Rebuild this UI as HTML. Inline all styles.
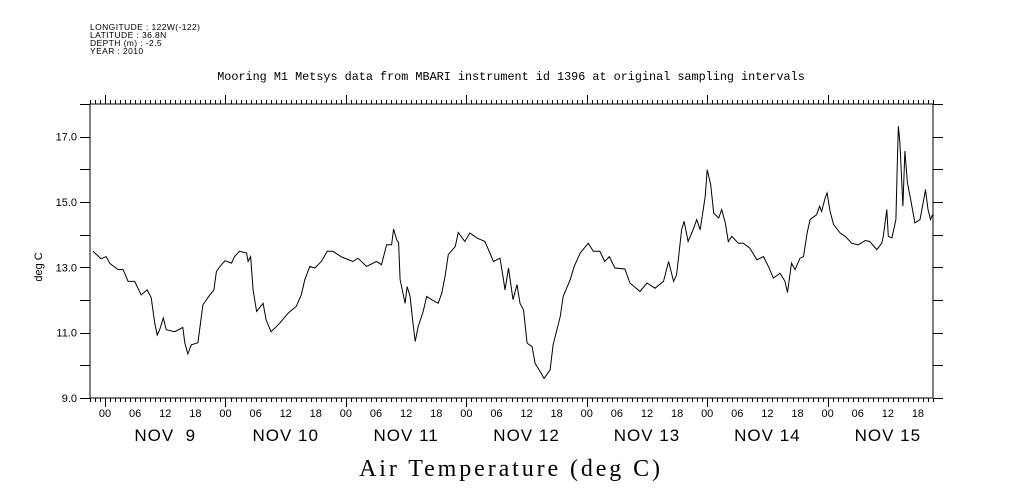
<!DOCTYPE html>
<html><head><meta charset="utf-8"><style>
html,body{margin:0;padding:0;background:#fff;}
svg{display:block}
</style></head><body>
<svg id="chart" width="1009" height="504" viewBox="0 0 1009 504" xmlns="http://www.w3.org/2000/svg">
<g font-family="Liberation Sans, sans-serif" font-size="8.5" letter-spacing="0.4" fill="#000">
<text x="90" y="30">LONGITUDE : 122W(-122)</text>
<text x="90" y="38">LATITUDE : 36.8N</text>
<text x="90" y="46">DEPTH (m) : -2.5</text>
<text x="90" y="54">YEAR : 2010</text>
</g>
<text x="511" y="80" text-anchor="middle" font-family="Liberation Mono, monospace" font-size="11.8">Mooring M1 Metsys data from MBARI instrument id 1396 at original sampling intervals</text>
<text x="511" y="476" text-anchor="middle" font-family="Liberation Serif, serif" font-size="24" letter-spacing="2.9">Air Temperature (deg C)</text>
<text transform="translate(42,267) rotate(-90)" text-anchor="middle" font-family="Liberation Sans, sans-serif" font-size="11">deg C</text>
<rect x="90" y="104" width="843" height="294" fill="none" stroke="#000" stroke-width="1"/>
<g id="axes"></g>
<path id="series" fill="none" stroke="#000" stroke-width="1"/>
</svg>
<script>
// hours since Nov 9 00:00
const hours = [-2.4,-0.8,0.2,1,2.6,3.6,4.6,5.9,7.2,8.4,9.2,9.9,10.4,10.9,11.6,12.2,13.9,15.5,15.9,16.5,17.2,18.5,19.5,20.9,21.7,22.2,22.9,23.9,25.2,25.8,26.8,28.2,28.5,29,29.5,30.2,31.5,32.1,33.1,34.8,36.5,38.1,39.1,39.8,40.8,41.8,43.1,44.3,45.4,47.1,49.4,50.4,52.1,54.1,
55.1,56.1,57.1,57.5,58.1,58.5,58.8,59.8,60.2,60.8,61.3,61.8,62.4,63.4,64.1,65.1,66.4,67.1,67.8,68.4,69.8,70.4,71.7,72.7,74.1,75.7,76.7,77.4,78.7,79.3,79.7,80.4,81.3,82.1,82.7,83.4,84.1,85.1,85.7,86.7,87.5,88.7,89.3,90.7,91.3,92.7,93.5,94.7,96.3,97.3,98.6,99.6,100.5,101.6,103.6,104.6,106.6,108.0,109.6,
111.3,112.3,113.3,113.9,114.9,115.4,116.2,117.2,117.9,118.6,119.6,120.0,120.7,121.3,122.3,122.9,123.6,124.2,124.9,126.2,127.2,128.5,129.9,131.2,132.2,133.2,134.5,135.5,136.0,136.8,137.5,138.5,139.2,139.9,140.5,141.8,142.4,142.8,143.5,143.9,144.5,145.2,146.5,147.5,148.8,150.1,151.5,152.4,153.8,154.8,155.1,155.8,156.1,156.8,157.6,157.9,158.1,158.4,159.0,159.4,159.9,160.5,161.4,162.4,162.9,163.5,164.0,164.5,164.9];
const temps = [13.49,13.26,13.33,13.11,12.93,12.93,12.57,12.57,12.16,12.31,12.07,11.30,10.93,11.09,11.45,11.09,11.03,11.16,10.69,10.35,10.63,10.69,11.85,12.16,12.31,12.87,13.03,13.20,13.13,13.33,13.49,13.44,13.18,13.33,12.31,11.65,11.90,11.39,11.03,11.29,11.60,11.80,12.16,12.62,13.03,12.98,13.18,13.49,13.49,13.32,13.18,13.28,13.03,13.18,
13.08,13.69,13.69,14.17,13.85,13.75,12.62,11.90,12.41,12.11,11.39,10.73,11.19,11.65,12.11,12.01,11.90,12.21,12.77,13.39,13.64,14.07,13.79,14.05,13.90,13.79,13.44,13.18,13.28,12.72,12.31,12.98,12.01,12.47,11.90,11.70,10.68,10.57,10.06,9.81,9.60,9.86,10.63,11.49,12.11,12.62,13.03,13.44,13.74,13.49,13.49,13.18,13.33,12.98,12.95,12.52,12.26,12.52,12.36,
12.57,13.18,12.57,12.77,14.15,14.41,13.79,14.15,14.46,14.15,15.17,15.99,15.53,14.66,14.51,14.77,14.36,13.79,13.95,13.74,13.74,13.59,13.23,13.33,13.03,12.67,12.82,12.57,12.23,13.13,12.93,13.28,13.33,14.05,14.46,14.61,14.87,14.71,15.12,15.28,14.71,14.31,14.05,13.95,13.74,13.69,13.82,13.79,13.54,13.74,13.95,14.77,13.95,13.90,14.46,16.30,17.32,16.81,14.87,16.56,15.59,15.12,14.36,14.46,14.87,15.38,14.77,14.46,14.61];
const yTickValues = [9,10,11,12,13,14,15,16,17,18];
const yTickLabels = ["9.0","11.0","13.0","15.0","17.0"];
const dayLabels = ["NOV  9","NOV 10","NOV 11","NOV 12","NOV 13","NOV 14","NOV 15"];
const hourLabels = ["00","06","12","18"];

const X0=90,X1=933,Y0=104,Y1=398,HMIN=-3,HMAX=165,VMIN=9,VMAX=18;
function xs(h){return X0+(h-HMIN)/(HMAX-HMIN)*(X1-X0);}
function ys(v){return Y1-(v-VMIN)/(VMAX-VMIN)*(Y1-Y0);}
const NS='http://www.w3.org/2000/svg';
const axes=document.getElementById('axes');
function mk(tag,attrs,parent){const e=document.createElementNS(NS,tag);for(const k in attrs)e.setAttribute(k,attrs[k]);(parent||axes).appendChild(e);return e;}

let d='';
for(let i=0;i<hours.length;i++){d+=(i?'L':'M')+xs(hours[i]).toFixed(1)+' '+ys(temps[i]).toFixed(1);}
document.getElementById('series').setAttribute('d',d);

let tp='';
for(let h=HMIN;h<=HMAX;h++){
  const x=Math.round(xs(h))+0.5;
  const major=((h%24)+24)%24===0;
  const L=major?9:4;
  tp+=`M${x} ${Y1}V${Y1+L}M${x} ${Y0}V${Y0-L}`;
}
yTickValues.forEach(v=>{const y=Math.round(ys(v))+0.5;tp+=`M${X0} ${y}H${X0-10}M${X1} ${y}H${X1+10}`;});
const tk=mk('path',{d:tp,stroke:'#000','stroke-width':1,fill:'none'});



yTickLabels.forEach(s=>{
  const t=mk('text',{x:77,y:ys(parseFloat(s))+4,'text-anchor':'end','font-family':'Liberation Sans, sans-serif','font-size':11});
  t.textContent=s;
  
  
});
for(let h=0;h<=HMAX;h+=6){
  const t=mk('text',{x:xs(h),y:417,'text-anchor':'middle','font-family':'Liberation Sans, sans-serif','font-size':11});
  t.textContent=hourLabels[(h/6)%4];
  
  
}
dayLabels.forEach((s,i)=>{
  const t=mk('text',{x:xs(i*24+12),y:441,'text-anchor':'middle','font-family':'Liberation Sans, sans-serif','font-size':17,'letter-spacing':1});
  t.setAttribute('style','white-space:pre');
  t.textContent=s;
  
  
});
</script>
</body></html>
